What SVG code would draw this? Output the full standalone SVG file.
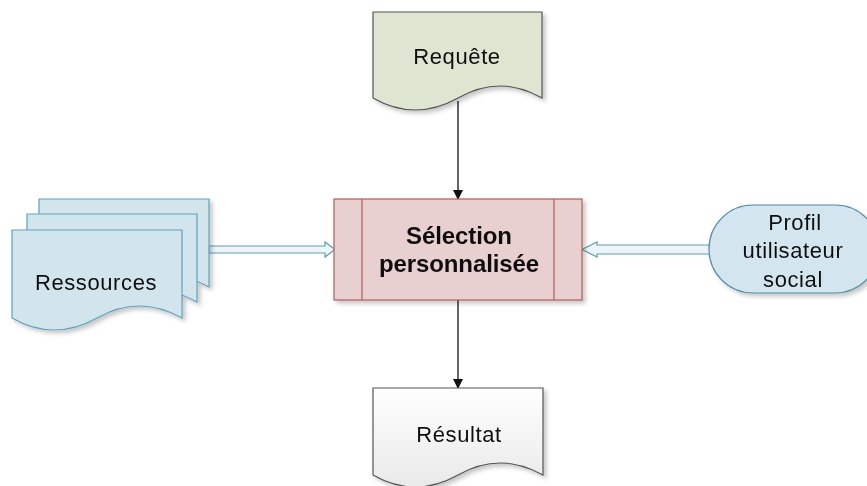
<svg xmlns="http://www.w3.org/2000/svg" width="867" height="486" viewBox="0 0 867 486">
<defs>
<filter id="sh" x="-10%" y="-10%" width="130%" height="130%">
<feDropShadow dx="3" dy="3" stdDeviation="2" flood-color="#000" flood-opacity="0.22"/>
</filter>
<linearGradient id="gw" x1="0" y1="0" x2="0" y2="1">
<stop offset="0" stop-color="#ffffff"/>
<stop offset="1" stop-color="#e9e9e9"/>
</linearGradient>
<marker id="ah" markerWidth="10" markerHeight="10" refX="9" refY="5" orient="auto" markerUnits="userSpaceOnUse">
<path d="M0,0 L10,5 L0,10 Z" fill="#111"/>
</marker>
</defs>
<style>
text{font-family:"Liberation Sans",Arial,sans-serif;font-size:22px;fill:#111;text-anchor:middle;letter-spacing:0.6px}
.b{font-weight:bold;font-size:24px;letter-spacing:-0.1px}
.doc{stroke-width:1.2}
.res{fill:#d2e4ec;stroke:#5ea3bb;stroke-width:1.2}
.hol{fill:#eef5f8;stroke:#5f9db3;stroke-width:1.2}
.ln{stroke:#111;stroke-width:1.3;fill:none}
</style>
<rect width="867" height="486" fill="#fff"/>

<g id="connectors">
<line class="ln" x1="458" y1="101" x2="458" y2="199" marker-end="url(#ah)"/>
<line class="ln" x1="458" y1="300" x2="458" y2="388" marker-end="url(#ah)"/>
<polygon class="hol" points="209,246 325,246 325,242 335,249.5 325,257 325,253 209,253"/>
<polygon class="hol" points="711,245 597,245 597,242 582,249.5 597,257 597,254 711,254"/>
</g>

<g id="requete" filter="url(#sh)">
<path class="doc" d="M373,12 L542,12 L542,98 Q500,74 458,98 Q415,122 373,98 Z" fill="#dee6d1" stroke="#555"/>
<text x="457" y="64">Requête</text>
</g>

<g id="ressources" filter="url(#sh)">
<path class="res" d="M39,199 L209,199 L209,287 Q166,263 124,287 Q81,311 39,287 Z"/>
<path class="res" d="M27,214 L197,214 L197,302 Q154,278 112,302 Q69,326 27,302 Z"/>
<path class="res" d="M12,230 L182,230 L182,318 Q139,294 97,318 Q54,342 12,318 Z"/>
<text x="96" y="290">Ressources</text>
</g>

<g id="selection" filter="url(#sh)">
<rect x="334" y="199" width="248" height="101" fill="#e8cfd0" stroke="#b35a5a" stroke-width="1.2"/>
<line x1="362" y1="199" x2="362" y2="300" stroke="#b35a5a" stroke-width="1.2"/>
<line x1="554" y1="199" x2="554" y2="300" stroke="#b35a5a" stroke-width="1.2"/>
<text class="b" x="459" y="244">Sélection</text>
<text class="b" x="459" y="272">personnalisée</text>
</g>

<g id="profil" filter="url(#sh)">
<rect x="709" y="205" width="170" height="88" rx="44" ry="44" fill="#d3e5ee" stroke="#4c8ea5" stroke-width="1.2"/>
<text x="795" y="230">Profil</text>
<text x="793" y="258">utilisateur</text>
<text x="793" y="287">social</text>
</g>

<g id="resultat" filter="url(#sh)">
<path class="doc" d="M373,388 L543,388 L543,475 Q500,451 458,475 Q415,499 373,475 Z" fill="url(#gw)" stroke="#555"/>
<text x="459" y="442">Résultat</text>
</g>
</svg>
